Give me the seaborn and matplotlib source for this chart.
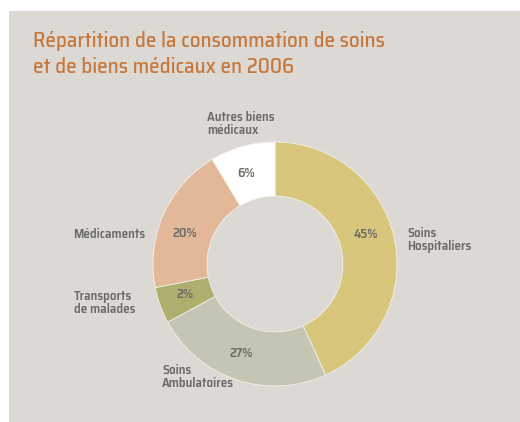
import matplotlib
matplotlib.use("Agg")
import numpy as np
import pandas as pd
import seaborn as sns
import matplotlib.pyplot as plt

# Data (angular shares as drawn, and the printed labels)
categories = ["Soins\nHospitaliers", "Soins\nAmbulatoires", "Transports\nde malades",
              "Médicaments", "Autres biens\nmédicaux"]
shares = [43.2, 23.9, 4.8, 19.5, 8.6]
pct_labels = ["45%", "27%", "2%", "20%", "6%"]
colors = ["#D8C67D", "#C5C5B3", "#AEAE6E", "#E2B899", "#FFFFFF"]

df = pd.DataFrame({"categorie": categories, "part": shares, "label": pct_labels})

sns.set_theme(style="white")
plt.rcParams['font.family'] = ['Saira SemiCondensed', 'DejaVu Sans']

bg = "#DCD9D5"
txt = "#6B6B66"

fig = plt.figure(figsize=(5.2, 4.22), dpi=100)
fig.patch.set_facecolor("white")

# grey panel behind everything
panel = fig.add_axes([9 / 520, 0, 1 - 9 / 520, 1 - 11 / 422])
panel.set_facecolor(bg)
panel.set_xticks([])
panel.set_yticks([])
for s in panel.spines.values():
    s.set_visible(False)

# donut
ax = fig.add_axes([(275 - 122) / 520, (158 - 122) / 422, 244 / 520, 244 / 422])
ax.set_facecolor("none")
wedges, _ = ax.pie(df["part"], colors=sns.color_palette(colors), startangle=90,
                   counterclock=False, radius=1,
                   wedgeprops=dict(width=0.443, edgecolor="#F2F0EC", linewidth=0.6))
ax.set_xlim(-1, 1)
ax.set_ylim(-1, 1)
ax.axis("off")

# small angular shifts so the percentages sit where the designer put them
nudge = [6, -2, -1, 5, 2]
for w, lab, d in zip(wedges, df["label"], nudge):
    ang = np.deg2rad((w.theta1 + w.theta2) / 2 + d)
    ax.text(0.78 * np.cos(ang), 0.78 * np.sin(ang), lab, ha="center", va="center",
            fontsize=9.4, fontweight="semibold", color=txt)

# category labels
lab_kw = dict(ha="left", va="center", fontsize=9.4, fontweight="semibold",
              color=txt, linespacing=1.08)
fig.text(407 / 520, 1 - 240 / 422, categories[0], **lab_kw)
fig.text(162 / 520, 1 - 377 / 422, categories[1], **lab_kw)
fig.text(74 / 520, 1 - 303 / 422, categories[2], **lab_kw)
fig.text(73 / 520, 1 - 235 / 422, categories[3], **lab_kw)
fig.text(207 / 520, 1 - 124 / 422, categories[4], **lab_kw)

# title
fig.text(33 / 520, 1 - 54 / 422,
         "Répartition de la consommation de soins\net de biens médicaux en 2006",
         ha="left", va="center", fontsize=15.2, fontweight="medium", color="#C8773A",
         linespacing=1.36)

plt.savefig("out.png", dpi=100, facecolor=fig.get_facecolor())
